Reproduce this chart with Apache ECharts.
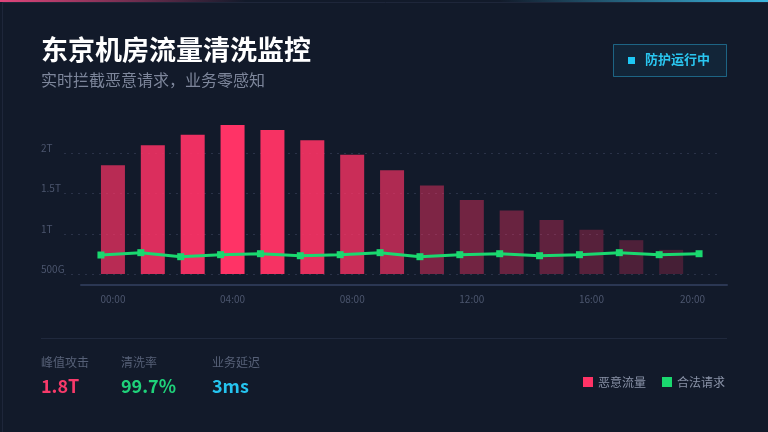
<!DOCTYPE html>
<html>
<head>
<meta charset="utf-8">
<script src="https://cdn.jsdelivr.net/npm/echarts@6/dist/echarts.min.js"></script>
<style>
html,body{margin:0;padding:0;background:#121a2a;}
#c{width:768px;height:432px;}
</style>
</head>
<body>
<div id="c"></div>
<script>
// ---- data ----
const categories = ['00:00','01:20','02:40','04:00','05:20','06:40','08:00','09:20','10:40','12:00','13:20','14:40','16:00','17:20','18:40','20:00'];
const maliciousG = [1850,2100,2230,2350,2290,2160,1980,1790,1600,1420,1290,1170,1050,920,800,null];
const legitG = [736,765,715,740,752,727,740,765,715,740,752,727,740,765,740,752];
const yTickValues = [500,1000,1500,2000];
const yTickLabels = ['500G','1T','1.5T','2T'];
const seriesNames = ['恶意流量','合法请求'];
const titleText = '东京机房流量清洗监控';
const subtitleText = '实时拦截恶意请求，业务零感知';
const badgeText = '防护运行中';
const statLabels = ['峰值攻击','清洗率','业务延迟'];
const statValues = ['1.8T','99.7%','3ms'];

const FONT = '"Noto Sans CJK SC","Noto Sans",sans-serif';
const PINK = '#ff3366', GREEN = '#1ad86f', CYAN = '#25c4ef';

function barOpacity(v){
  if (v >= 1700) return Math.min(1, 0.7 + 0.3*(v-1850)/500);
  return 0.22 + 0.3*(v-800)/1000;
}

const chart = echarts.init(document.getElementById('c'), null, {renderer:'canvas'});
const yCommon = {type:'value', min:500, max:2500, interval:500};
const gTop = 113, gBottom = 158;

chart.setOption({
  backgroundColor:'#121a2a',
  animation:false,
  textStyle:{fontFamily:FONT},
  grid:[
    {left:93, right:37, top:gTop, bottom:gBottom},   // bars
    {left:81, right:49, top:gTop, bottom:gBottom},   // line
    {left:64, right:48, top:gTop, bottom:gBottom},   // y labels + split lines
    {left:81, right:41, top:gTop, bottom:gBottom}    // x axis line
  ],
  xAxis:[
    {gridIndex:0, type:'category', data:categories, boundaryGap:true,
     axisLine:{show:false}, axisTick:{show:false},
     axisLabel:{interval:2, margin:20, color:'#4c566e', fontSize:10, fontFamily:FONT,
       formatter:function(v, i){ return i === categories.length-1 ? '{last|'+v+'}' : v; },
       rich:{last:{padding:[0,37,0,0], color:'#4c566e', fontSize:10, fontFamily:FONT}}}},
    {gridIndex:1, type:'category', data:categories, boundaryGap:true, show:false},
    {gridIndex:2, type:'category', data:categories, show:false},
    {gridIndex:3, type:'category', data:categories, offset:11,
     axisLine:{show:true, lineStyle:{color:'#2b3753', width:2}},
     axisTick:{show:false}, axisLabel:{show:false}}
  ],
  yAxis:[
    Object.assign({gridIndex:0, show:false}, yCommon),
    Object.assign({gridIndex:1, show:false}, yCommon),
    Object.assign({gridIndex:2,
      axisLine:{show:false}, axisTick:{show:false},
      axisLabel:{show:true, align:'left', margin:23, verticalAlign:'bottom', showMaxLabel:false,
        color:'#4b556d', fontSize:10, fontFamily:FONT,
        formatter:function(v){ const i = yTickValues.indexOf(v); return i >= 0 ? yTickLabels[i] : ''; }},
      splitLine:{show:true, showMaxLine:false, lineStyle:{color:'#2a3248', width:1, type:[2,5]}}
    }, yCommon),
    Object.assign({gridIndex:3, show:false}, yCommon)
  ],
  legend:{
    data:[{name:seriesNames[0], itemStyle:{color:PINK}}, {name:seriesNames[1], itemStyle:{color:GREEN}}],
    right:38, top:371, icon:'rect', itemWidth:10, itemHeight:10, itemGap:16,
    textStyle:{color:'#8a93a8', fontSize:12, fontFamily:FONT}
  },
  series:[
    {name:seriesNames[0], type:'bar', xAxisIndex:0, yAxisIndex:0, data:maliciousG, barWidth:24,
     itemStyle:{color:function(p){ return 'rgba(255,51,102,'+barOpacity(p.value).toFixed(3)+')'; }}},
    {name:seriesNames[1], type:'line', xAxisIndex:1, yAxisIndex:1, data:legitG, z:5,
     symbol:'rect', symbolSize:7, showSymbol:true,
     lineStyle:{color:GREEN, width:3}, itemStyle:{color:GREEN}}
  ],
  graphic:[
    {type:'rect', left:0, top:0, silent:true, z:-1,
     shape:{x:0.5, y:0.5, width:767, height:431},
     style:{fill:null, stroke:'#1e263a', lineWidth:1}},
    {type:'rect', left:0, top:0, silent:true,
     shape:{x:0, y:0, width:768, height:2},
     style:{fill:new echarts.graphic.LinearGradient(0,0,1,0,[
       {offset:0, color:'#e0457b'},
       {offset:0.32, color:'rgba(224,69,123,0)'},
       {offset:0.65, color:'rgba(59,183,224,0)'},
       {offset:1, color:'#3bb7e0'}])}},
    {type:'text', left:41, top:36, silent:true,
     style:{text:titleText, fill:'#ffffff', font:'bold 27px '+FONT}},
    {type:'text', left:41, top:72, silent:true,
     style:{text:subtitleText, fill:'#7d869b', font:'16px '+FONT}},
    {type:'rect', left:613, top:44, silent:true,
     shape:{x:0.5, y:0.5, width:113, height:32},
     style:{fill:'rgba(30,180,230,0.08)', stroke:'rgba(40,170,215,0.5)', lineWidth:1}},
    {type:'rect', left:628, top:57, silent:true,
     shape:{width:7, height:7}, style:{fill:'#1ec8f5'}},
    {type:'text', left:645, top:53, silent:true,
     style:{text:badgeText, fill:'#2ac6f0', font:'bold 13px '+FONT}},
    {type:'rect', left:41, top:338, silent:true,
     shape:{width:686, height:1}, style:{fill:'#20293d'}},
    {type:'text', left:41, top:356, silent:true, style:{text:statLabels[0], fill:'#566077', font:'12px '+FONT}},
    {type:'text', left:121, top:356, silent:true, style:{text:statLabels[1], fill:'#566077', font:'12px '+FONT}},
    {type:'text', left:212, top:356, silent:true, style:{text:statLabels[2], fill:'#566077', font:'12px '+FONT}},
    {type:'text', left:41, top:377, silent:true, style:{text:statValues[0], fill:'#f73a6a', font:'bold 18px '+FONT}},
    {type:'text', left:121, top:377, silent:true, style:{text:statValues[1], fill:'#1fd27a', font:'bold 18px '+FONT}},
    {type:'text', left:212, top:377, silent:true, style:{text:statValues[2], fill:CYAN, font:'bold 18px '+FONT}}
  ]
});
</script>
</body>
</html>
